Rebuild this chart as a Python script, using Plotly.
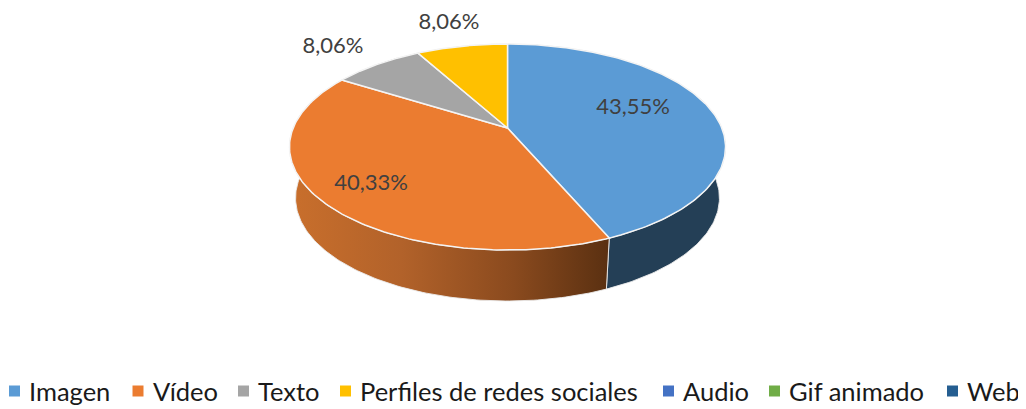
import numpy as np
import plotly.graph_objects as go

categories = ["Imagen", "Vídeo", "Texto", "Perfiles de redes sociales", "Audio", "Gif animado", "Web"]
values = [43.55, 40.33, 8.06, 8.06, 0, 0, 0]
top_colors = ["#5B9BD5", "#EB7C30", "#A5A5A5", "#FFC000", "#4472C4", "#70AD47", "#255E91"]
wall_gradients = [
    [[0, "#243F56"], [1, "#243F56"]],
    [[0, "#C96F2C"], [0.35, "#B2622A"], [0.7, "#8A4A1E"], [1, "#5A3011"]],
    [[0, "#626262"], [1, "#626262"]],
    [[0, "#997300"], [1, "#997300"]],
    [[0, "#294576"], [1, "#294576"]],
    [[0, "#43682B"], [1, "#43682B"]],
    [[0, "#163855"], [1, "#163855"]],
]
label_positions = [(633, 108), (371, 184), (333, 47), (449, 23)]
legend_swatch_x = [14.5, 138, 243.5, 345.5, 668.5, 774.5, 952.5]
legend_text_x = [27, 151, 256, 358, 681, 787, 965]
LEGEND_Y = 391

CX, CY = 507.5, 128.0
A, B, PERSP = 214.3, 99.5, 0.1845
DEPTH, BOTTOM_SCALE = 51.0, 0.972


def rim(angles_deg, depth=0.0, scale=1.0):
    t = np.radians(angles_deg)
    u, v = np.sin(t), np.cos(t)
    d = 1 + PERSP * v
    return CX + scale * A * u / d, CY - B * v / d + depth


fig = go.Figure()
total = sum(values)
edges = np.concatenate([[0], np.cumsum(values) / total * 360])

# walls
for i, val in enumerate(values):
    if val <= 0:
        continue
    a = np.linspace(edges[i], edges[i + 1], 160)
    x1, y1 = rim(a)
    x2, y2 = rim(a, DEPTH, BOTTOM_SCALE)
    xs = np.concatenate([x1, x2[::-1], x1[:1]])
    ys = np.concatenate([y1, y2[::-1], y1[:1]])
    fig.add_trace(go.Scatter(
        x=xs, y=ys, mode="lines", fill="toself", hoverinfo="skip", showlegend=False,
        line=dict(color="rgba(235,235,235,0.9)", width=1),
        fillgradient=dict(type="horizontal", colorscale=wall_gradients[i],
                          start=float(xs.min()), stop=float(xs.max())),
    ))

# top faces
for i, val in enumerate(values):
    if val <= 0:
        continue
    a = np.linspace(edges[i], edges[i + 1], 160)
    x1, y1 = rim(a)
    xs = np.concatenate([[CX], x1, [CX]])
    ys = np.concatenate([[CY], y1, [CY]])
    fig.add_trace(go.Scatter(
        x=xs, y=ys, mode="lines", fill="toself", fillcolor=top_colors[i], hoverinfo="skip",
        showlegend=False, line=dict(color="#F4F4F4", width=1.5),
    ))

# legend row
for name, col, sx, tx in zip(categories, top_colors, legend_swatch_x, legend_text_x):
    fig.add_trace(go.Scatter(
        x=[sx], y=[LEGEND_Y], mode="markers", name=name, showlegend=False,
        marker=dict(symbol="square", size=11, color=col, line=dict(width=0)),
    ))
    fig.add_annotation(x=tx, y=LEGEND_Y, text=name, showarrow=False, xanchor="left",
                       font=dict(family="Lato", size=25.5, color="#1a1a1a"))

# value labels
labels = [f"{v:.2f}%".replace(".", ",") for v in values[:len(label_positions)]]
fig.add_trace(go.Scatter(
    x=[p[0] for p in label_positions], y=[p[1] for p in label_positions],
    mode="text", text=labels, textposition="middle center", showlegend=False, hoverinfo="skip",
    textfont=dict(family="Lato", size=22, color="#404040"), cliponaxis=False,
))

fig.update_layout(
    width=1018, height=401, margin=dict(l=0, r=0, t=0, b=0), showlegend=False,
    paper_bgcolor="white", plot_bgcolor="white",
    xaxis=dict(range=[8, 1026], visible=False, fixedrange=True),
    yaxis=dict(range=[409, 8], visible=False, fixedrange=True),
)
fig.write_html("out.html")
